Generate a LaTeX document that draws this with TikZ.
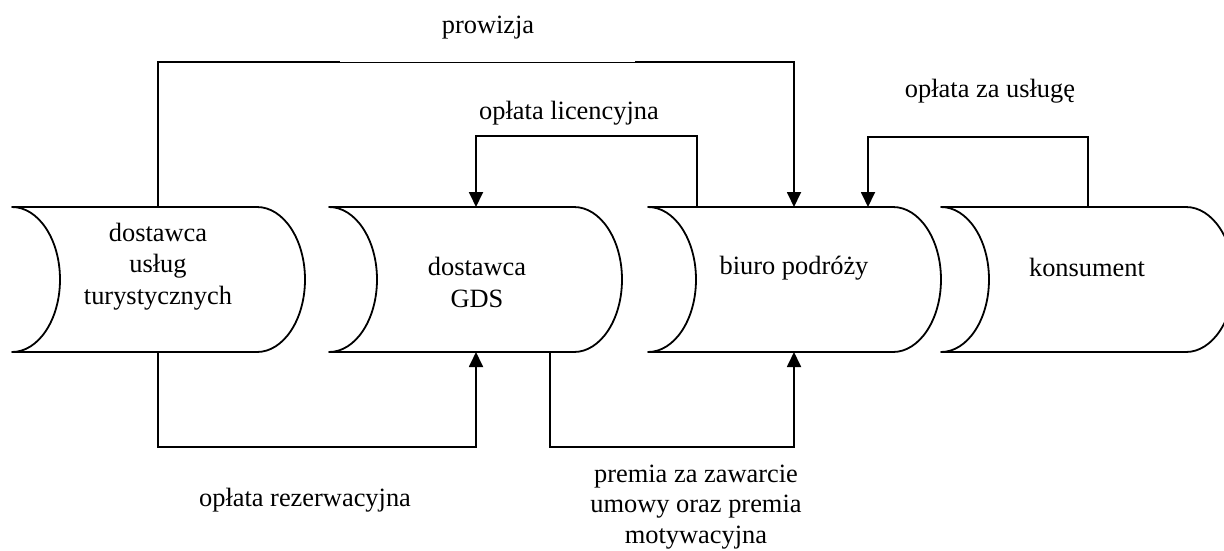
\documentclass[tikz,border=0pt]{standalone}
\usepackage{fontspec}
\setmainfont{Liberation Serif}
\usetikzlibrary{arrows.meta}
\begin{document}
\begin{tikzpicture}[x=1pt,y=-1pt,
  boxline/.style={line width=1.8pt, line join=round},
  conn/.style={line width=1.8pt},
  thinconn/.style={line width=0.9pt},
  arr/.style={conn,-{Triangle[length=15pt,width=14pt]}},
  lbl/.style={font=\fontsize{26.4}{30.5}\selectfont, align=center, inner sep=0pt},
  boxtext/.style={font=\fontsize{26.4}{31.5}\selectfont, align=center, inner sep=0pt}]
\useasboundingbox (0,0) rectangle (1224,550);
\newcommand\sdshape[1]{%
  \draw[boxline] (#1,207) arc[start angle=-90, end angle=90, x radius=48, y radius=72.5]
    -- (#1+245,352) arc[start angle=90, end angle=-90, x radius=48, y radius=72.5] -- cycle;}
\sdshape{12}
\sdshape{329}
\sdshape{648}
\sdshape{941}
% box texts
\node[boxtext] (b1) at (158,266.5) {dostawca\\usług\\turystycznych};
\node[boxtext] (b2) at (477,282.5) {dostawca\\GDS};
\node[boxtext] (b3) at (794,268) {biuro podróży};
\node[boxtext] (b4) at (1087,267) {konsument};
% connection points on box edges
\coordinate (b1top) at (158,207);
\coordinate (b1bot) at (158,352);
\coordinate (b2topin) at (476,207);
\coordinate (b2botin) at (476,352);
\coordinate (b2bot) at (550,352);
\coordinate (b3topout) at (697,207);
\coordinate (b3topa) at (794,207);
\coordinate (b3topb) at (868,207);
\coordinate (b3botin) at (794,352);
\coordinate (b4top) at (1088,207);
\coordinate (pA) at (340,62);
\coordinate (pB) at (635,62);
% prowizja
\draw[conn] (b1top) |- (pA);
\draw[thinconn] (pA) -- (pB);
\draw[arr] (pB) -| (b3topa);
\node[lbl] (lprow) at (488,28) {prowizja};
% licencyjna
\draw[arr] (b3topout) -- (697,136) -| (b2topin);
\node[lbl] (llic) at (569,113) {opłata licencyjna};
% za usluge
\draw[arr] (b4top) -- (1088,137) -| (b3topb);
\node[lbl] (lusl) at (990,91) {opłata za usługę};
% rezerwacyjna
\draw[arr] (b1bot) -- (158,447) -| (b2botin);
\node[lbl] (lrez) at (305,500) {opłata rezerwacyjna};
% premia
\draw[arr] (b2bot) -- (550,447) -| (b3botin);
\node[lbl] (lprem) at (696,507) {premia za zawarcie\\umowy oraz premia\\motywacyjna};
\end{tikzpicture}
\end{document}
